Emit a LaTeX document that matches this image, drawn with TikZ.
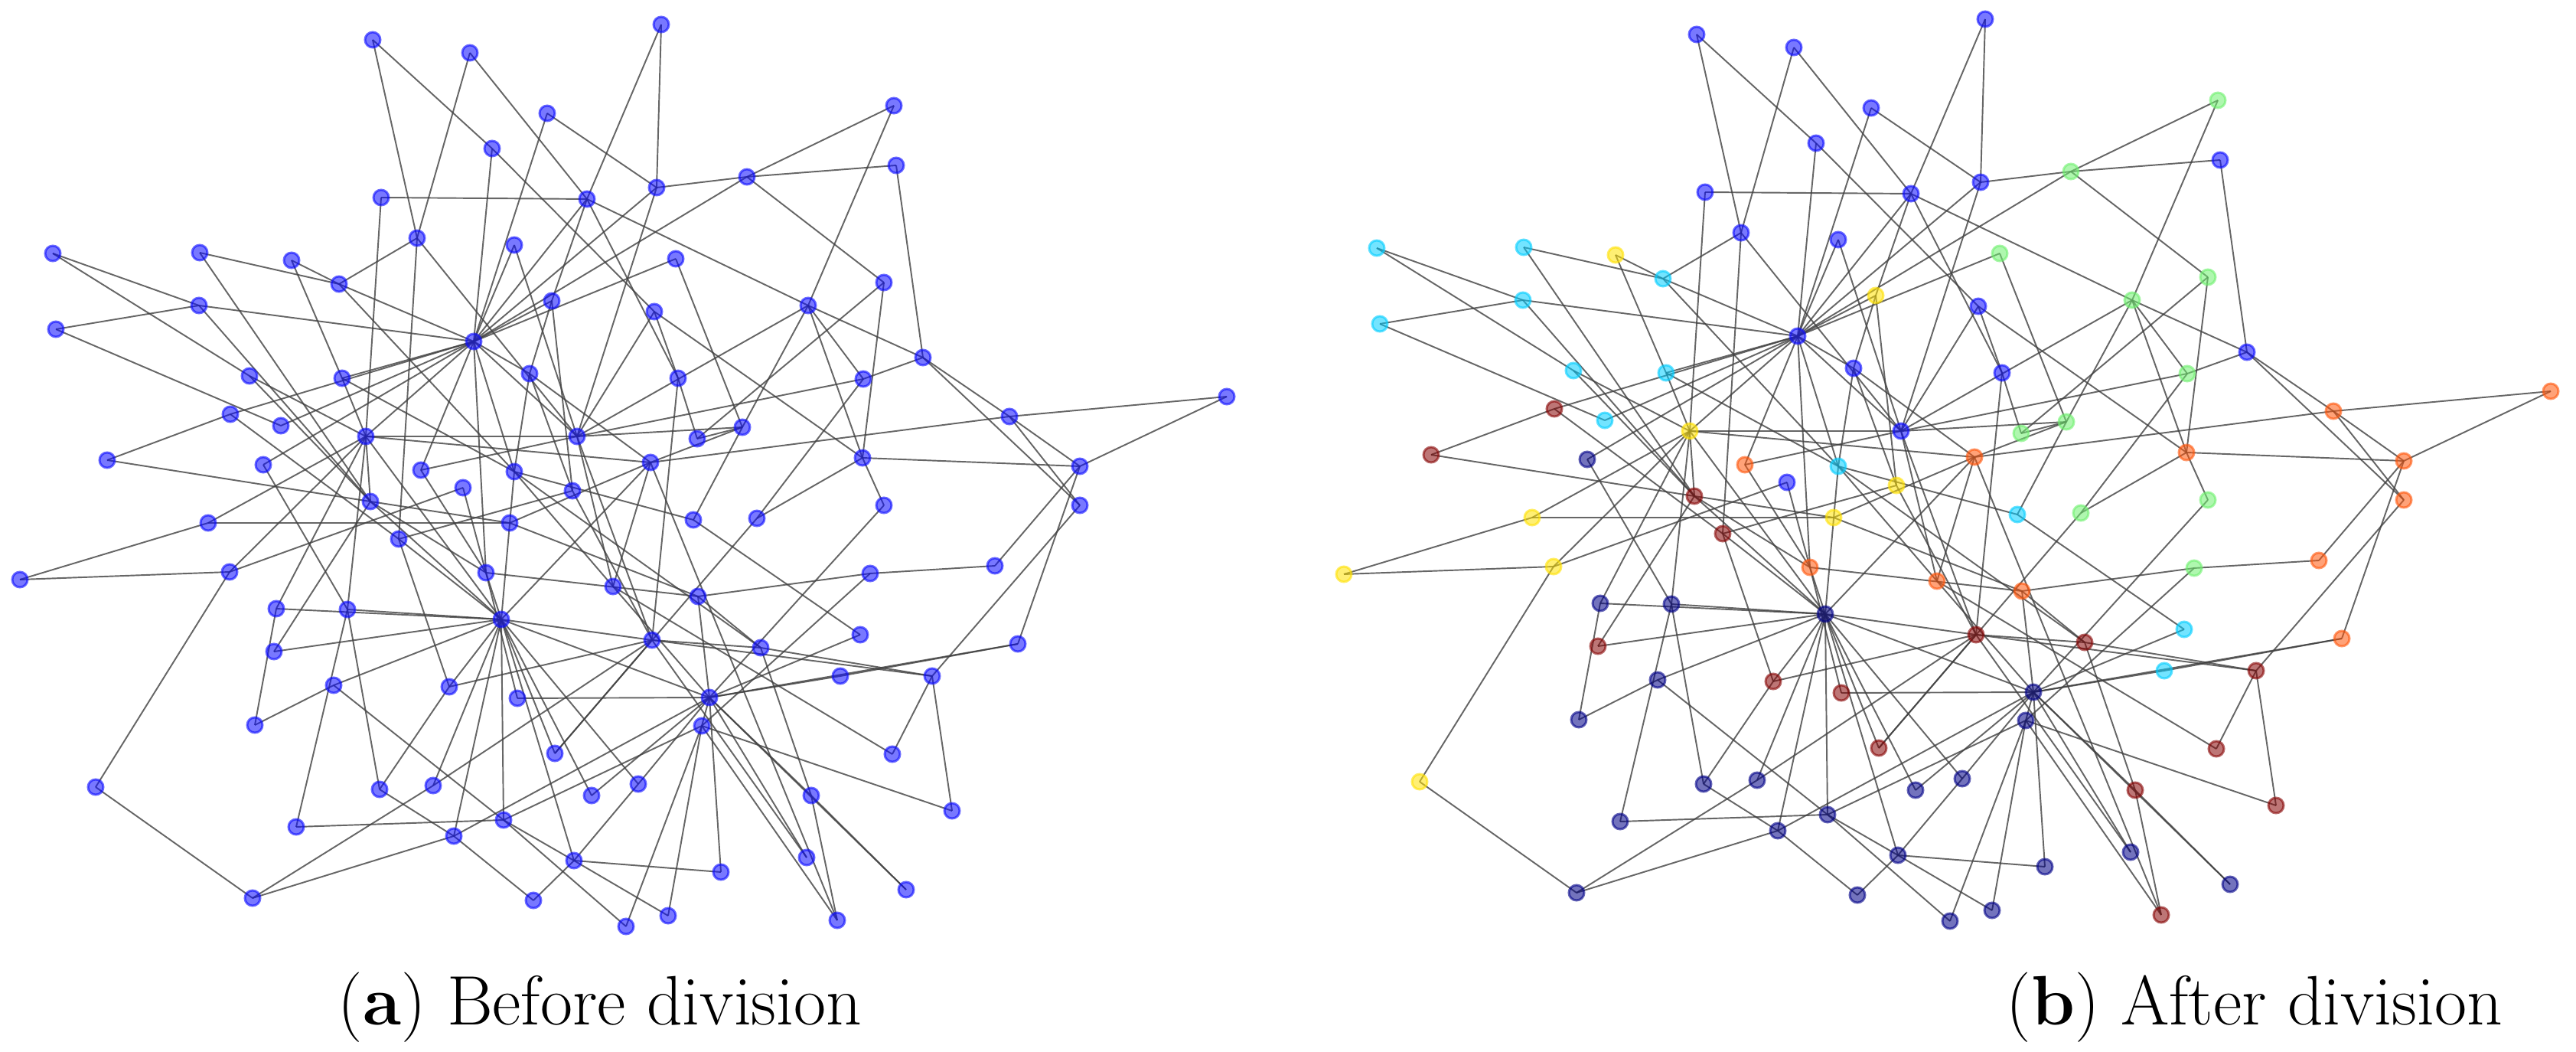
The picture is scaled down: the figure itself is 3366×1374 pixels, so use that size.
\documentclass[tikz,border=0pt]{standalone}
\usepackage{tikz}
\definecolor{cN}{RGB}{0,0,135}		%jet colours of the groups
\definecolor{cB}{RGB}{10,10,255}
\definecolor{cC}{RGB}{0,205,255}
\definecolor{cG}{RGB}{110,240,110}
\definecolor{cY}{RGB}{255,225,0}
\definecolor{cO}{RGB}{255,85,10}
\definecolor{cR}{RGB}{135,5,5}
\pgfdeclarelayer{edges}
\pgfsetlayers{edges,main}
% Syntax: number/x/y/colour after division (pixels, y downwards)
\def\netnodes{1/487/52/cB, 2/614/69/cB, 3/864/32/cB, 4/715/148/cB, 5/643/194/cB,
6/1168/138/cG, 7/1171/216/cB, 8/858/245/cB, 9/976/231/cG, 10/767/260/cB,
11/498/258/cB, 12/545/311/cB, 13/672/320/cB, 14/883/338/cG, 15/1155/369/cG,
16/69/331/cC, 17/261/330/cC, 18/381/340/cY, 19/443/371/cC, 20/721/393/cY,
21/260/399/cC, 22/73/430/cC, 23/619/446/cB, 24/855/407/cB, 25/1056/399/cG,
26/1206/467/cB, 27/692/488/cB, 28/326/491/cC, 29/447/494/cC, 30/886/494/cB,
31/1128/495/cG, 32/1603/518/cO, 33/301/541/cR, 34/367/556/cC, 35/478/570/cY,
36/1319/544/cO, 37/970/558/cG, 38/911/573/cG, 39/754/570/cB, 40/140/601/cR,
41/344/607/cN, 42/550/614/cO, 43/1127/598/cO, 44/1411/609/cO, 45/850/604/cO,
46/672/616/cC, 47/605/637/cB, 48/748/641/cY, 49/484/655/cR, 50/1155/660/cG,
51/1411/660/cO, 52/906/679/cC, 53/989/677/cG, 54/666/683/cY, 55/272/683/cY,
56/521/704/cR, 57/1300/739/cO, 58/300/747/cY, 59/635/748/cO, 60/1137/749/cG,
61/26/757/cY, 62/801/766/cO, 63/912/779/cO, 64/361/795/cN, 65/454/796/cN,
66/655/809/cN, 67/1124/829/cC, 68/852/836/cR, 69/1330/841/cO, 70/994/846/cR,
71/358/851/cR, 72/1098/883/cC, 73/1218/883/cR, 74/436/895/cN, 75/587/897/cR,
76/676/912/cR, 77/927/911/cN, 78/333/947/cN, 79/917/948/cN, 80/725/984/cR,
81/1166/985/cR, 82/125/1028/cY, 83/566/1026/cN, 84/496/1031/cN, 85/834/1024/cN,
86/773/1039/cN, 87/1060/1039/cR, 88/1244/1059/cR, 89/658/1071/cN, 90/387/1080/cN,
91/593/1092/cN, 92/750/1124/cN, 93/1054/1120/cN, 94/942/1139/cN, 95/1184/1162/cN,
96/330/1173/cN, 97/697/1176/cN, 98/873/1196/cN, 99/1094/1202/cR, 100/818/1210/cN}
% Syntax: from/to
\def\netedges{1/5, 1/12, 2/10, 2/12, 3/8, 3/10, 4/8, 4/23, 5/23, 5/24, 6/9, 6/25,
7/9, 7/26, 8/9, 8/23, 8/39, 9/15, 9/23, 10/11, 10/20, 10/23, 10/25, 10/30,
11/35, 12/19, 12/39, 12/56, 13/23, 13/39, 14/23, 14/37, 15/38, 15/43,
16/21, 16/28, 17/19, 17/49, 18/19, 18/29, 19/23, 19/46, 20/23, 20/27, 20/48,
21/22, 21/23, 21/49, 22/34, 23/27, 23/29, 23/33, 23/34, 23/35, 23/39, 23/41,
23/42, 23/46, 23/59, 24/30, 24/39, 24/43, 25/26, 25/31, 25/37, 25/39, 25/43,
26/31, 26/36, 26/51, 27/45, 27/46, 27/48, 28/35, 28/49, 29/35, 29/46,
30/38, 30/68, 31/39, 31/53, 32/36, 32/44, 33/40, 33/56,
35/39, 35/45, 35/49, 35/55, 35/58, 35/64, 35/65, 35/66, 36/44, 36/45, 36/51,
37/38, 37/39, 37/45, 37/52, 39/42, 39/62, 39/68, 40/49, 41/65, 42/59,
43/44, 43/50, 43/53, 44/57, 44/69, 45/54, 45/62, 45/66, 45/99,
46/52, 46/62, 46/66, 46/70, 47/58, 47/59, 48/56, 48/68,
49/54, 49/59, 49/66, 49/71, 50/77, 51/73, 52/67, 53/80, 54/55, 54/63, 55/61,
56/66, 56/75, 57/60, 58/61, 58/82, 59/63, 59/66, 59/76, 60/63, 60/79,
62/77, 62/81, 63/70, 63/77, 64/66, 64/78, 65/66, 65/84, 65/90,
66/68, 66/71, 66/74, 66/75, 66/77, 66/80, 66/83, 66/85, 66/86, 66/89, 66/91, 66/92,
67/77, 68/70, 68/73, 68/75, 68/80, 68/83, 68/93, 69/72, 69/77, 70/73, 70/87,
72/77, 73/81, 73/88, 74/78, 74/89, 75/84, 76/77,
77/79, 77/85, 77/86, 77/87, 77/91, 77/93, 77/94, 77/95,
79/88, 79/89, 79/98, 79/99, 79/100, 82/96, 83/96, 84/91, 85/92, 87/95, 87/99,
89/90, 89/92, 89/100, 91/96, 91/97, 92/94, 92/97, 92/98}

\begin{document}
\begin{tikzpicture}[x=0.1mm,y=-0.1mm,
	vtx/.style={circle,inner sep=0pt,minimum size=2mm,line width=0.3mm,draw=#1,fill=#1,fill opacity=0.55,draw opacity=0.6},
	link/.style={line width=0.55pt,draw=black!75,draw opacity=0.8},
	capt/.style={anchor=base,inner sep=0pt,font=\fontsize{26}{31}\selectfont}]
	\useasboundingbox (0,0) rectangle (3366,1374);
	
	%NODES (a)
	\foreach \i/\x/\y/\c in \netnodes
		\node[vtx=cB] (a\i) at (\x,\y) {};
	%NODES (b)							%same layout, coloured by group
	\begin{scope}[xshift=173mm,yshift=0.7mm]
	\foreach \i/\x/\y/\c in \netnodes
		\node[vtx=\c] (b\i) at (\x,\y) {};
	\end{scope}
	
	%EDGES
	\begin{pgfonlayer}{edges}
	\foreach \u/\v in \netedges{
		\draw[link] (a\u.center) -- (a\v.center);
		\draw[link] (b\u.center) -- (b\v.center);
	}
	\end{pgfonlayer}
	
	%CAPTIONS
	\node[capt] (capa) at (784,1338) {(\textbf{a}) Before division};
	\node[capt] (capb) at (2946,1338) {(\textbf{b}) After division};
\end{tikzpicture}
\end{document}
